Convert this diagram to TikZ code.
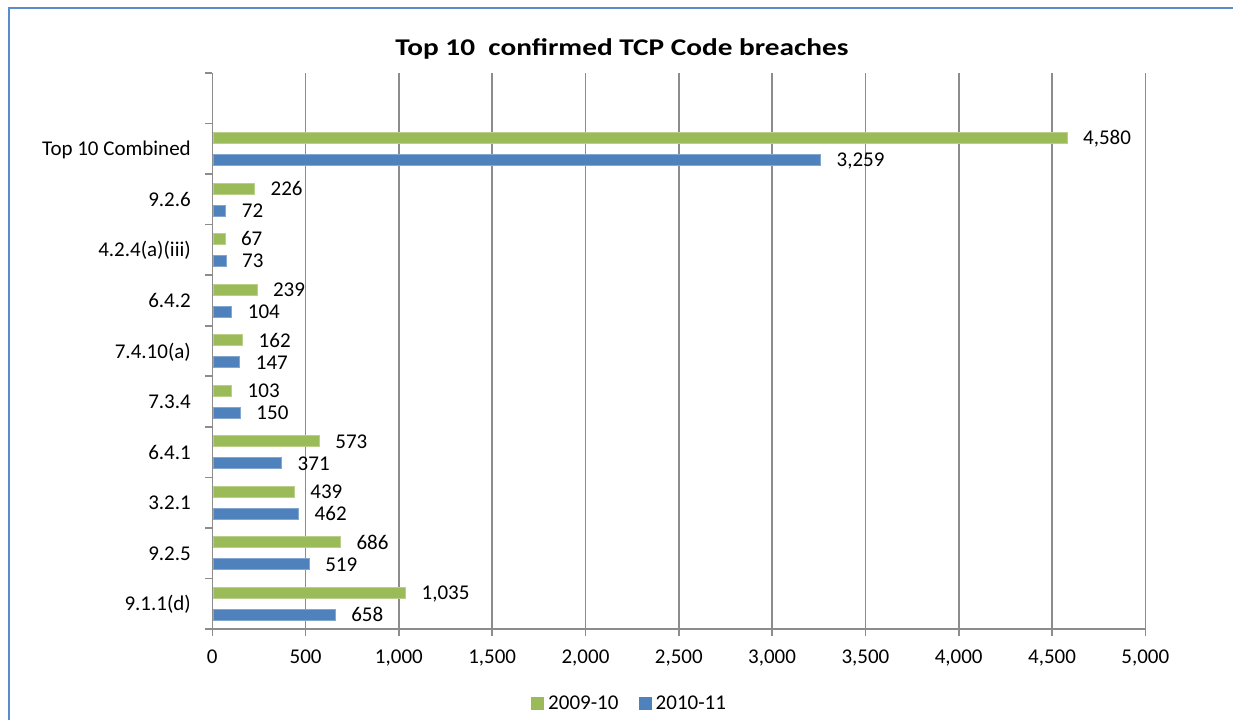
\documentclass[tikz,border=0pt]{standalone}
\usepackage{fontspec}
\usepackage{graphicx}
\setmainfont{Carlito}
\definecolor{gbar}{HTML}{9BBB59}
\definecolor{bbar}{HTML}{4F81BD}
\definecolor{axisgray}{HTML}{8C8C8C}
\definecolor{framecol}{HTML}{5B8BC9}
\begin{document}
\begin{tikzpicture}[x=1pt,y=-1pt,
  lbl/.style={font=\fontsize{21}{25}\selectfont, inner sep=0pt, text=black},
  ttl/.style={font=\fontsize{24}{28}\selectfont\bfseries, inner sep=0pt, text=black},
  grid line/.style={axisgray, line width=1.6pt},
  greenbar/.style={fill=gbar, draw=gbar!70!white, line width=0.6pt},
  bluebar/.style={fill=bbar, draw=bbar!70!white, line width=0.6pt},
]
\useasboundingbox (0,0) rectangle (1233,720);
\fill[white] (0,0) rectangle (1233,720);
% frame
\draw[framecol, line width=1.6pt] (9,720) -- (9,8) -- (1233,8);
% title
\node[ttl, anchor=base] (title) at (622,55) {\scalebox{1.22}[1]{Top 10\ \ confirmed TCP Code breaches}};
% gridlines and x tick labels
\foreach \k/\t in {0/0,1/500,2/{1,000},3/{1,500},4/{2,000},5/{2,500},6/{3,000},7/{3,500},8/{4,000},9/{4,500},10/{5,000}}{
  \pgfmathsetmacro{\xx}{212.3+93.3*\k}
  \ifnum\k>0
    \draw[grid line] (\xx,73) -- (\xx,636);
  \else
    \draw[grid line] (\xx,629) -- (\xx,636);
  \fi
  \node[lbl, anchor=base] (xt\k) at (\xx,663.5) {\t};
}
% axes
\draw[grid line] (212.3,73) -- (212.3,629) -- (1145.3,629);
% y ticks
\foreach \i in {0,...,11}{
  \pgfmathsetmacro{\yy}{73+50.545*\i}
  \draw[grid line] (205,\yy) -- (212.3,\yy);
}
% bars
\foreach \i/\name/\g/\b/\gt/\bt in {
  1/Top 10 Combined/4580/3259/{4,580}/{3,259},
  2/9.2.6/226/72/226/72,
  3/4.2.4(a)(iii)/67/73/67/73,
  4/6.4.2/239/104/239/104,
  5/7.4.10(a)/162/147/162/147,
  6/7.3.4/103/150/103/150,
  7/6.4.1/573/371/573/371,
  8/3.2.1/439/462/439/462,
  9/9.2.5/686/519/686/519,
  10/9.1.1(d)/1035/658/{1,035}/658}{
  \pgfmathsetmacro{\yc}{73+50.545*(\i+0.5)}
  \pgfmathsetmacro{\gx}{212.3+0.1866*\g}
  \pgfmathsetmacro{\bx}{212.3+0.1866*\b}
  \node[lbl, anchor=base east] (cat\i) at (191,\yc+7) {\name};
  \draw[greenbar] (213.3,\yc-16.5) rectangle (\gx,\yc-5.5);
  \draw[bluebar] (213.3,\yc+5.5) rectangle (\bx,\yc+16.5);
  \node[lbl, anchor=base west] (gv\i) at (\gx+16,\yc-11+7) {\gt};
  \node[lbl, anchor=base west] (bv\i) at (\bx+16,\yc+11+7) {\bt};
}
% legend
\fill[gbar] (531,697) rectangle (543.7,709.5);
\node[lbl, anchor=base west] (leg1) at (548,709) {2009-10};
\fill[bbar] (639,697) rectangle (651.7,709.5);
\node[lbl, anchor=base west] (leg2) at (655.5,709) {2010-11};
\end{tikzpicture}
\end{document}
